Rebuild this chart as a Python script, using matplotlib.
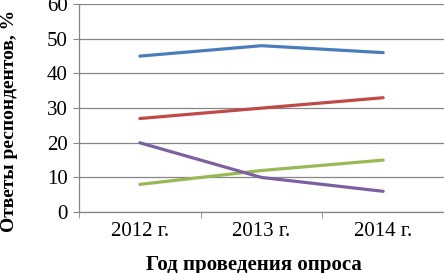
import numpy as np
import matplotlib.pyplot as plt

plt.rcParams['font.family'] = ['Liberation Serif', 'DejaVu Serif']

# Data
years = ['2012 г.', '2013 г.', '2014 г.']
series_blue = [45, 48, 46]
series_red = [27, 30, 33]
series_green = [8, 12, 15]
series_purple = [20, 10, 6]

colors = ['#4A7EBB', '#BE4B48', '#98B954', '#7D60A0']

fig = plt.figure(figsize=(4.44, 2.73), dpi=100)
ax = fig.add_axes([0.178, 0.223, 0.822, 0.762])

x = np.arange(len(years))
for vals, c in zip([series_blue, series_red, series_green, series_purple], colors):
    ax.plot(x, vals, color=c, linewidth=2.3, solid_capstyle='round')

ax.set_xlim(-0.5, 2.5)
ax.set_ylim(0, 60)
ax.set_yticks(range(0, 61, 10))
ax.set_xticks(x)
ax.set_xticklabels(years, fontsize=15)
ax.set_xticks([-0.5, 0.5, 1.5, 2.5], minor=True)
ax.tick_params(axis='x', which='major', length=0, pad=7)
ax.tick_params(axis='x', which='minor', length=4, color='#868686', direction='out')
ax.tick_params(axis='y', length=4, color='#868686', labelsize=15, pad=4)

ax.grid(axis='y', color='#868686', linewidth=0.9)
ax.set_axisbelow(True)
for s in ['top', 'right']:
    ax.spines[s].set_visible(False)
for s in ['left', 'bottom']:
    ax.spines[s].set_color('#868686')
    ax.spines[s].set_linewidth(0.9)

ax.set_xlabel('Год проведения опроса', fontsize=15, fontweight='bold')
ax.set_ylabel('Ответы респондентов, %', fontsize=14, fontweight='bold')
ax.xaxis.set_label_coords(0.478, -0.205)
ax.yaxis.set_label_coords(-0.168, 0.44)

fig.savefig('out.png', dpi=100)
